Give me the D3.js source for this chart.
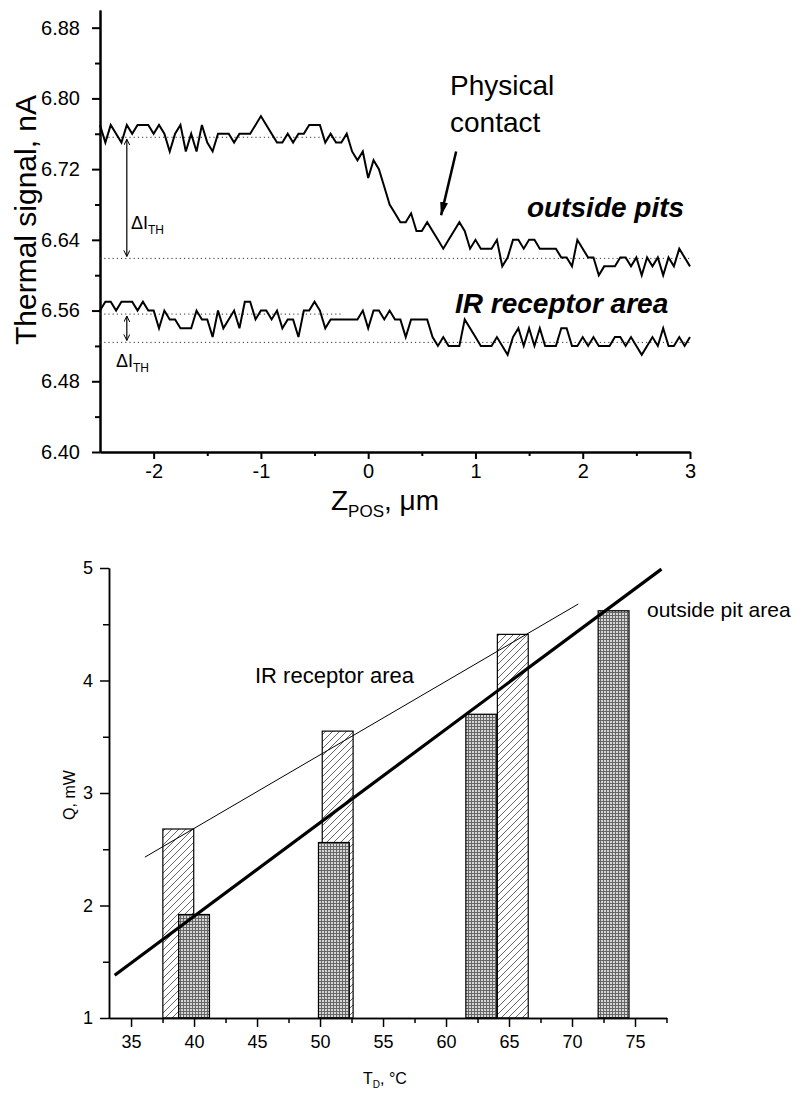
<!DOCTYPE html>
<html>
<head>
<meta charset="utf-8">
<script src="https://cdn.jsdelivr.net/npm/d3@7"></script>
<style>
  body { margin: 0; background: #fff; }
  svg { font-family: "Liberation Sans", Arial, sans-serif; }
</style>
</head>
<body>
<div class="chart"></div>
<script>
// ---------- data: top panel (thermal signal vs Z position) ----------
var zStart = -2.5
var zStep = 0.05
var pitsSignal = [
  6.77, 6.75, 6.77, 6.76, 6.75, 6.77, 6.76, 6.77, 6.77, 6.77,
  6.76, 6.77, 6.76, 6.74, 6.76, 6.77, 6.74, 6.76, 6.74, 6.77,
  6.75, 6.74, 6.76, 6.76, 6.76, 6.75, 6.76, 6.76, 6.76, 6.77,
  6.78, 6.77, 6.76, 6.75, 6.75, 6.76, 6.75, 6.76, 6.76, 6.77,
  6.77, 6.77, 6.75, 6.76, 6.75, 6.75, 6.76, 6.74, 6.73, 6.74,
  6.71, 6.73, 6.72, 6.70, 6.68, 6.67, 6.66, 6.66, 6.67, 6.65,
  6.65, 6.66, 6.65, 6.64, 6.63, 6.64, 6.65, 6.66, 6.65, 6.63,
  6.64, 6.63, 6.63, 6.63, 6.64, 6.61, 6.62, 6.64, 6.64, 6.63,
  6.64, 6.64, 6.63, 6.63, 6.63, 6.63, 6.62, 6.62, 6.61, 6.64,
  6.63, 6.62, 6.62, 6.60, 6.61, 6.61, 6.61, 6.62, 6.62, 6.61,
  6.62, 6.60, 6.62, 6.61, 6.62, 6.60, 6.62, 6.61, 6.63, 6.62, 6.61
]
var irSignal = [
  6.56, 6.57, 6.57, 6.56, 6.57, 6.57, 6.57, 6.56, 6.57, 6.56,
  6.56, 6.54, 6.56, 6.55, 6.55, 6.54, 6.54, 6.54, 6.56, 6.55,
  6.55, 6.53, 6.56, 6.54, 6.55, 6.56, 6.54, 6.57, 6.57, 6.55,
  6.56, 6.56, 6.55, 6.56, 6.54, 6.55, 6.55, 6.53, 6.56, 6.56,
  6.57, 6.56, 6.54, 6.55, 6.55, 6.55, 6.55, 6.55, 6.55, 6.56,
  6.54, 6.56, 6.56, 6.55, 6.56, 6.55, 6.55, 6.53, 6.55, 6.55,
  6.55, 6.55, 6.53, 6.52, 6.53, 6.52, 6.52, 6.52, 6.55, 6.54,
  6.53, 6.52, 6.52, 6.52, 6.53, 6.52, 6.51, 6.53, 6.54, 6.52,
  6.54, 6.52, 6.54, 6.52, 6.52, 6.52, 6.54, 6.54, 6.52, 6.52,
  6.53, 6.52, 6.53, 6.52, 6.52, 6.52, 6.53, 6.53, 6.52, 6.53,
  6.52, 6.51, 6.52, 6.53, 6.52, 6.54, 6.52, 6.52, 6.53, 6.52, 6.53
]
// before / after contact levels (dotted lines)
var pitsLevels = [6.756, 6.619]
var irLevels = [6.556, 6.524]
var zTicks = [-2, -1, 0, 1, 2, 3]
var zMinor = [-1.5, -0.5, 0.5, 1.5, 2.5]
var signalTicks = [6.40, 6.48, 6.56, 6.64, 6.72, 6.80, 6.88]
var signalMinor = [6.44, 6.52, 6.60, 6.68, 6.76, 6.84]

// ---------- data: bottom panel (Q vs T) ----------
var irTemp = [38.75, 51.4, 65.3]
var irQ = [2.68, 3.55, 4.41]
var pitTemp = [40.0, 51.1, 62.8, 73.3]
var pitQ = [1.92, 2.56, 3.70, 4.62]
var irFitT = [36.1, 70.5]
var irFitQ = [2.43, 4.68]
var pitFitT = [33.7, 77.1]
var pitFitQ = [1.38, 4.99]
var tTicks = [35, 40, 45, 50, 55, 60, 65, 70, 75]
var tMinor = [37.5, 42.5, 47.5, 52.5, 57.5, 62.5, 67.5, 72.5, 77.5]
var qTicks = [1, 2, 3, 4, 5]
var qMinor = [1.5, 2.5, 3.5, 4.5]

var svg = d3.select(".chart")
  .append("svg")
    .attr("width", 809)
    .attr("height", 1099)

// patterns + markers
var defs = svg.append("defs")

var hatch = defs.append("pattern")
  .attr("id", "hatch")
  .attr("patternUnits", "userSpaceOnUse")
  .attr("width", 7).attr("height", 7)
hatch.append("rect").attr("width", 7).attr("height", 7).attr("fill", "#fff")
hatch.append("path")
  .attr("d", "M0,7 L7,0 M-1,1 L1,-1 M6,8 L8,6")
  .attr("stroke", "#222").attr("stroke-width", 0.7)

var grid = defs.append("pattern")
  .attr("id", "grid")
  .attr("patternUnits", "userSpaceOnUse")
  .attr("width", 3).attr("height", 3)
grid.append("rect").attr("width", 3).attr("height", 3).attr("fill", "#d6d6d6")
grid.append("path")
  .attr("d", "M0,0.5 H3 M0.5,0 V3")
  .attr("stroke", "#666").attr("stroke-width", 1)

defs.append("marker")
  .attr("id", "tip")
  .attr("markerUnits", "userSpaceOnUse")
  .attr("markerWidth", 14).attr("markerHeight", 8)
  .attr("refX", 13).attr("refY", 4)
  .attr("orient", "auto")
  .append("path").attr("d", "M0,0 L14,4 L0,8 z").attr("fill", "#000")

defs.append("marker")
  .attr("id", "vee")
  .attr("markerUnits", "userSpaceOnUse")
  .attr("markerWidth", 8).attr("markerHeight", 8)
  .attr("refX", 6).attr("refY", 3)
  .attr("orient", "auto-start-reverse")
  .append("path").attr("d", "M0,0 L6,3 L0,6").attr("fill", "none").attr("stroke", "#000")

// ======================= top panel =======================
var x1 = d3.scaleLinear().domain([-2.5, 3]).range([100, 690])
var y1 = d3.scaleLinear().domain([6.40, 6.90]).range([452, 10])

var topG = svg.append("g")

function styleAxis(g, size, width) {
  g.attr("font-family", null).attr("font-size", size)
  g.selectAll("path, line").attr("stroke", "#000").attr("stroke-width", width)
  g.selectAll("text").attr("fill", "#000")
}

topG.append("g")
  .attr("transform", "translate(0,452)")
  .call(d3.axisBottom(x1).tickValues(zMinor).tickSize(4).tickSizeOuter(0).tickFormat(""))
  .call(styleAxis, 20, 2)
topG.append("g")
  .attr("transform", "translate(0,452)")
  .call(d3.axisBottom(x1).tickValues(zTicks).tickSize(7).tickSizeOuter(0).tickPadding(5)
    .tickFormat(function(d){ return String(d) }))
  .call(styleAxis, 20, 2)

topG.append("g")
  .attr("transform", "translate(100,0)")
  .call(d3.axisLeft(y1).tickValues(signalMinor).tickSize(5).tickSizeOuter(0).tickFormat(""))
  .call(styleAxis, 20, 2)
topG.append("g")
  .attr("transform", "translate(100,0)")
  .call(d3.axisLeft(y1).tickValues(signalTicks).tickSize(8).tickSizeOuter(0).tickPadding(12)
    .tickFormat(d3.format(".2f")))
  .call(styleAxis, 20, 2)

// dotted reference levels
var dots = [
  { v: pitsLevels[0], to: -0.25 },
  { v: pitsLevels[1], to: 3 },
  { v: irLevels[0], to: -0.25 },
  { v: irLevels[1], to: 3 }
]
topG.selectAll(".level")
  .data(dots)
  .enter()
  .append("line")
    .attr("class", "level")
    .attr("x1", x1(-2.5))
    .attr("x2", function(d){ return x1(d.to) })
    .attr("y1", function(d){ return y1(d.v) })
    .attr("y2", function(d){ return y1(d.v) })
    .attr("stroke", "#333")
    .attr("stroke-width", 1)
    .attr("stroke-dasharray", "1.2,3")

var line1 = d3.line()
  .x(function(d, i){ return x1(zStart + i * zStep) })
  .y(function(d){ return y1(d) })

topG.selectAll(".trace")
  .data([pitsSignal, irSignal])
  .enter()
  .append("path")
    .attr("class", "trace")
    .attr("d", line1)
    .attr("fill", "none")
    .attr("stroke", "#000")
    .attr("stroke-width", 2)
    .attr("stroke-linejoin", "miter")

// delta I arrows
topG.selectAll(".delta")
  .data([pitsLevels, irLevels])
  .enter()
  .append("line")
    .attr("class", "delta")
    .attr("x1", x1(-2.25)).attr("x2", x1(-2.25))
    .attr("y1", function(d){ return y1(d[0]) + 2 })
    .attr("y2", function(d){ return y1(d[1]) - 2 })
    .attr("stroke", "#000")
    .attr("stroke-width", 1.2)
    .attr("marker-start", "url(#vee)")
    .attr("marker-end", "url(#vee)")

function deltaLabel(x, y) {
  var t = topG.append("text").attr("x", x).attr("y", y).attr("font-size", 18)
  t.append("tspan").text("ΔI")
  t.append("tspan").attr("font-size", 12).attr("dy", 5).text("TH")
}
deltaLabel(131, 229)
deltaLabel(116, 367)

// physical contact arrow
topG.append("line")
  .attr("x1", x1(0.82)).attr("y1", y1(6.740))
  .attr("x2", x1(0.68)).attr("y2", y1(6.668))
  .attr("stroke", "#000")
  .attr("stroke-width", 2.5)
  .attr("marker-end", "url(#tip)")

topG.append("text").attr("x", 450).attr("y", 95).attr("font-size", 28).text("Physical")
topG.append("text").attr("x", 450).attr("y", 132).attr("font-size", 28).text("contact")
topG.append("text").attr("x", 527).attr("y", 217).attr("font-size", 28)
  .attr("font-weight", "bold").attr("font-style", "italic").text("outside pits")
topG.append("text").attr("x", 455).attr("y", 313).attr("font-size", 28)
  .attr("font-weight", "bold").attr("font-style", "italic").text("IR receptor area")

topG.append("text")
  .attr("transform", "translate(36,220) rotate(-90)")
  .attr("text-anchor", "middle")
  .attr("font-size", 30)
  .text("Thermal signal, nA")

var zl = topG.append("text").attr("x", 385).attr("y", 510).attr("text-anchor", "middle").attr("font-size", 28)
zl.append("tspan").text("Z")
zl.append("tspan").attr("font-size", 17).attr("dy", 7).text("POS")
zl.append("tspan").attr("dy", -7).text(", μm")

// ======================= bottom panel =======================
var x2 = d3.scaleLinear().domain([33.25, 77.5]).range([109, 666.5])
var y2 = d3.scaleLinear().domain([1, 5]).range([1018, 568])
var barW = 2.45

var botG = svg.append("g")

botG.selectAll(".irbar")
  .data(irTemp)
  .enter()
  .append("rect")
    .attr("class", "irbar")
    .attr("x", function(d){ return x2(d - barW / 2) })
    .attr("width", function(d){ return x2(d + barW / 2) - x2(d - barW / 2) })
    .attr("y", function(d, i){ return y2(irQ[i]) })
    .attr("height", function(d, i){ return y2(1) - y2(irQ[i]) })
    .attr("fill", "url(#hatch)")
    .attr("stroke", "#000")
    .attr("stroke-width", 1.2)

botG.selectAll(".pitbar")
  .data(pitTemp)
  .enter()
  .append("rect")
    .attr("class", "pitbar")
    .attr("x", function(d){ return x2(d - barW / 2) })
    .attr("width", function(d){ return x2(d + barW / 2) - x2(d - barW / 2) })
    .attr("y", function(d, i){ return y2(pitQ[i]) })
    .attr("height", function(d, i){ return y2(1) - y2(pitQ[i]) })
    .attr("fill", "url(#grid)")
    .attr("stroke", "#000")
    .attr("stroke-width", 1.2)

var fits = [
  { t: irFitT, q: irFitQ, w: 1 },
  { t: pitFitT, q: pitFitQ, w: 3.2 }
]
botG.selectAll(".fit")
  .data(fits)
  .enter()
  .append("line")
    .attr("class", "fit")
    .attr("x1", function(d){ return x2(d.t[0]) })
    .attr("y1", function(d){ return y2(d.q[0]) })
    .attr("x2", function(d){ return x2(d.t[1]) })
    .attr("y2", function(d){ return y2(d.q[1]) })
    .attr("stroke", "#000")
    .attr("stroke-width", function(d){ return d.w })

botG.append("g")
  .attr("transform", "translate(0,1018)")
  .call(d3.axisBottom(x2).tickValues(tMinor).tickSize(5).tickSizeOuter(0).tickFormat(""))
  .call(styleAxis, 18, 1.5)
botG.append("g")
  .attr("transform", "translate(0,1018)")
  .call(d3.axisBottom(x2).tickValues(tTicks).tickSize(9).tickSizeOuter(0).tickPadding(8)
    .tickFormat(d3.format("d")))
  .call(styleAxis, 18, 1.5)
botG.append("g")
  .attr("transform", "translate(109,0)")
  .call(d3.axisLeft(y2).tickValues(qMinor).tickSize(6).tickSizeOuter(0).tickFormat(""))
  .call(styleAxis, 18, 1.5)
botG.append("g")
  .attr("transform", "translate(109,0)")
  .call(d3.axisLeft(y2).tickValues(qTicks).tickSize(9).tickSizeOuter(0).tickPadding(7)
    .tickFormat(d3.format("d")))
  .call(styleAxis, 18, 1.5)

botG.append("text").attr("x", 255).attr("y", 683).attr("font-size", 22).text("IR receptor area")
botG.append("text").attr("x", 647).attr("y", 617).attr("font-size", 21).text("outside pit area")

botG.append("text")
  .attr("transform", "translate(75,795) rotate(-90)")
  .attr("text-anchor", "middle")
  .attr("font-size", 16)
  .text("Q, mW")

var tl = botG.append("text").attr("x", 385).attr("y", 1084).attr("text-anchor", "middle").attr("font-size", 16)
tl.append("tspan").text("T")
tl.append("tspan").attr("font-size", 10).attr("dy", 4).text("D")
tl.append("tspan").attr("dy", -4).text(", °C")
</script>
</body>
</html>
